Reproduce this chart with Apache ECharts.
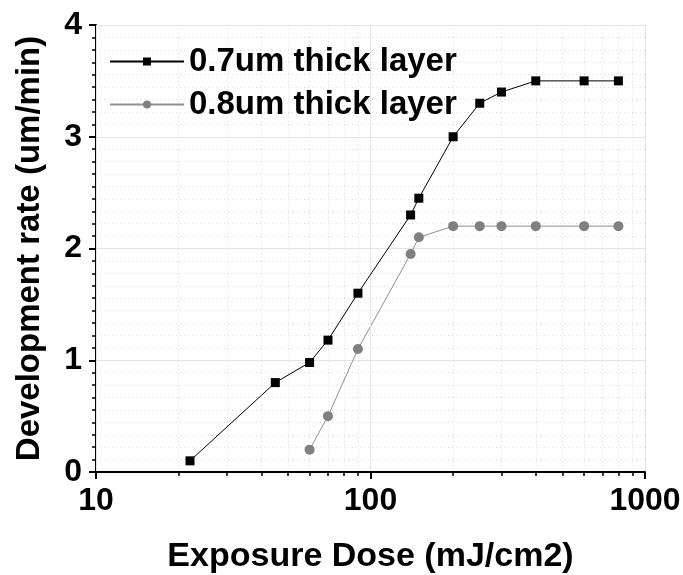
<!DOCTYPE html>
<html>
<head>
<meta charset="utf-8">
<script src="https://cdn.jsdelivr.net/npm/echarts@6/dist/echarts.min.js"></script>
<style>
  html, body { margin: 0; padding: 0; background: #fff; }
  #myChart { width: 683px; height: 575px; }
</style>
</head>
<body>
<div id="myChart"></div>
<script>
// data
const doseThin = [22, 45, 60, 70, 90, 140, 150, 200, 250, 300, 400, 600, 800];
const rateThin = [0.1, 0.8, 0.98, 1.18, 1.6, 2.3, 2.45, 3.0, 3.3, 3.4, 3.5, 3.5, 3.5];
const doseThick = [60, 70, 90, 140, 150, 200, 250, 300, 400, 600, 800];
const rateThick = [0.2, 0.5, 1.1, 1.95, 2.1, 2.2, 2.2, 2.2, 2.2, 2.2, 2.2];
const seriesNames = ['0.7um thick layer', '0.8um thick layer'];
// minor ticks of the log axis (2..9 of each decade)
const xMinorTicks = [20, 30, 40, 50, 60, 70, 80, 90, 200, 300, 400, 500, 600, 700, 800, 900];

const font = "'Liberation Sans', Arial, sans-serif";

function pairs(xs, ys) {
  return xs.map((x, i) => [x, ys[i]]);
}

let option = {
  animation: false,
  backgroundColor: '#fff',
  grid: {
    left: 96,
    right: 38,
    top: 25,
    bottom: 103,
    outerBoundsMode: 'none'
  },
  legend: {
    orient: 'vertical',
    left: 104,
    top: 39,
    itemWidth: 74,
    itemHeight: 10,
    itemGap: 8,
    textStyle: {
      fontFamily: font,
      fontWeight: 'bold',
      fontSize: 33,
      color: '#000',
      lineHeight: 35
    },
    data: seriesNames
  },
  xAxis: [
    {
      type: 'log',
      logBase: 10,
      min: 10,
      max: 1000,
      position: 'bottom',
      name: 'Exposure Dose (mJ/cm2)',
      nameLocation: 'middle',
      nameGap: 68,
      nameTextStyle: {
        fontFamily: font,
        fontWeight: 'bold',
        fontSize: 34,
        color: '#000'
      },
      axisLine: {lineStyle: {color: '#000', width: 2}},
      axisTick: {show: true, inside: false, length: 7, lineStyle: {color: '#000', width: 2}},
      axisLabel: {
        fontFamily: font,
        fontWeight: 'bold',
        fontSize: 32,
        color: '#000',
        margin: 13,
        formatter: v => String(v)
      },
      splitLine: {show: true, lineStyle: {color: '#e4e4e4', width: 1}},
      z: 3
    },
    {
      // helper axis: minor ticks and dotted minor grid at 2..9 per decade
      type: 'log',
      logBase: 10,
      min: 10,
      max: 1000,
      position: 'bottom',
      offset: 0,
      axisLine: {show: false},
      axisLabel: {show: false},
      axisTick: {
        show: true,
        inside: false,
        length: 4,
        customValues: xMinorTicks,
        lineStyle: {color: '#000', width: 1.5}
      },
      splitLine: {show: true, lineStyle: {color: '#dcdcdc', width: 1, type: [1, 3]}},
      z: 2
    }
  ],
  yAxis: {
    type: 'value',
    min: 0,
    max: 4,
    interval: 1,
    name: 'Development rate (um/min)',
    nameLocation: 'middle',
    nameGap: 50,
    nameTextStyle: {
      fontFamily: font,
      fontWeight: 'bold',
      fontSize: 33,
      color: '#000'
    },
    axisLine: {show: true, lineStyle: {color: '#000', width: 2}},
    axisTick: {show: true, inside: false, length: 7, lineStyle: {color: '#000', width: 2}},
    minorTick: {show: true, splitNumber: 9, length: 4, lineStyle: {color: '#000', width: 1.5}},
    axisLabel: {
      fontFamily: font,
      fontWeight: 'bold',
      fontSize: 32,
      color: '#000',
      margin: 14
    },
    splitLine: {show: true, lineStyle: {color: '#e4e4e4', width: 1}},
    minorSplitLine: {show: true, lineStyle: {color: '#dcdcdc', width: 1, type: [1, 3]}}
  },
  series: [
    {
      name: seriesNames[0],
      type: 'line',
      xAxisIndex: 0,
      data: pairs(doseThin, rateThin),
      symbol: 'rect',
      symbolSize: 9,
      itemStyle: {color: '#000'},
      lineStyle: {color: '#000', width: 1},
      z: 3
    },
    {
      name: seriesNames[1],
      type: 'line',
      xAxisIndex: 0,
      data: pairs(doseThick, rateThick),
      symbol: 'circle',
      symbolSize: 10,
      itemStyle: {color: '#808080'},
      lineStyle: {color: '#909090', width: 1},
      z: 2
    }
  ]
}

let myChart = echarts.init(document.getElementById('myChart'))
myChart.setOption(option)
</script>
</body>
</html>
